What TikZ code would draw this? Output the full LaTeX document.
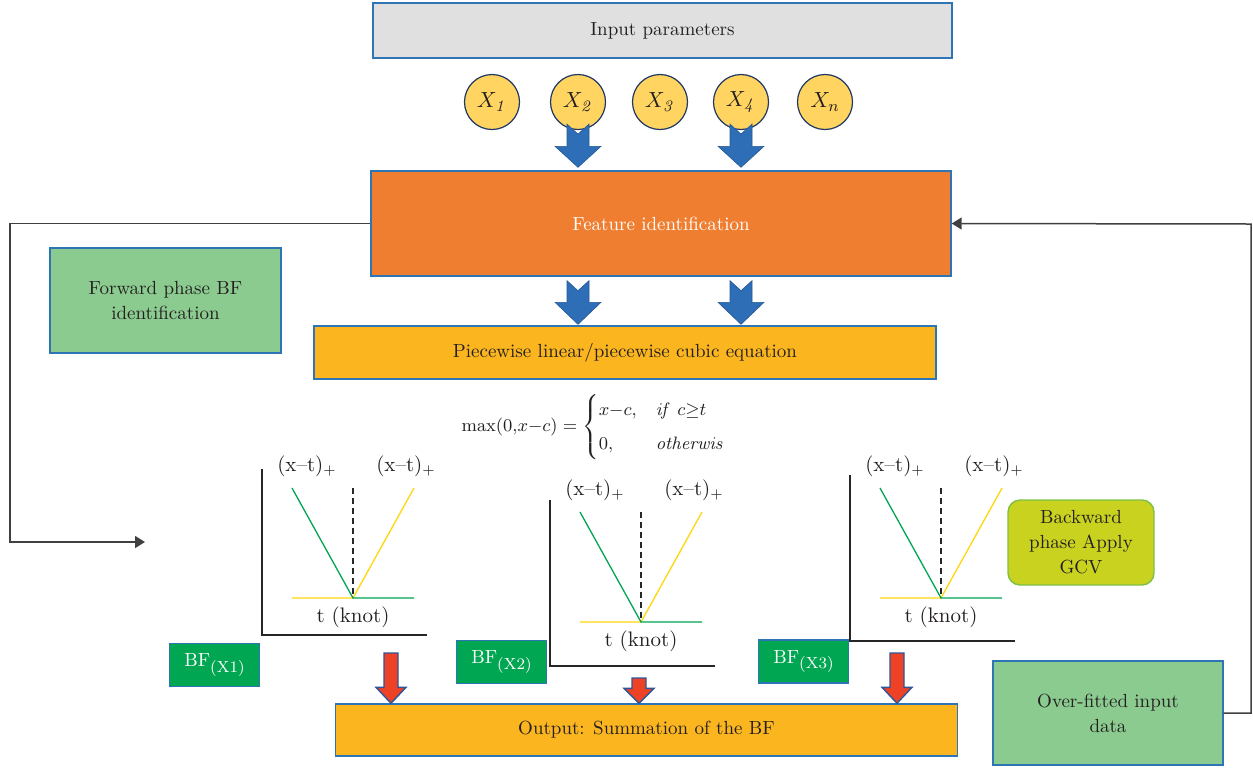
\documentclass[tikz,border=0pt]{standalone}
\usepackage{amsmath}
\usepackage{tikz}
\usetikzlibrary{calc, arrows.meta}

\definecolor{boxblue}{RGB}{46,117,182}
\definecolor{inpgrey}{RGB}{224,224,224}
\definecolor{featorange}{RGB}{240,126,48}
\definecolor{gold}{RGB}{251,181,31}
\definecolor{circyellow}{RGB}{255,212,96}
\definecolor{circblue}{RGB}{31,56,100}
\definecolor{lightgreen}{RGB}{139,203,143}
\definecolor{bfgreen}{RGB}{0,166,81}
\definecolor{gcvgreen}{RGB}{201,210,31}
\definecolor{gcvborder}{RGB}{125,192,70}
\definecolor{arrblue}{RGB}{46,110,183}
\definecolor{arrred}{RGB}{238,66,39}
\definecolor{arrredline}{RGB}{46,85,151}
\definecolor{linegrey}{RGB}{64,64,64}
\definecolor{txtdark}{RGB}{35,31,32}
\definecolor{plotgreen}{RGB}{0,166,81}
\definecolor{plotyellow}{RGB}{255,214,10}

\newcommand{\diagfont}{\fontsize{9.5}{12.5}\selectfont}
\newcommand{\bfsub}[1]{BF\raisebox{-2.6pt}{\fontsize{8}{9}\selectfont(#1)}}

% block arrow: style, top point, tip, shaft half width, head half width, head length, notch
\newcommand{\blockarrow}[7]{%
  \path[#1] let \p1=(#2), \p2=(#3) in
    (\x1-#4,\y1) -- (\x1,\y1-#7) -- (\x1+#4,\y1) -- (\x1+#4,\y2+#6)
    -- (\x1+#5,\y2+#6) -- (\x1,\y2) -- (\x1-#5,\y2+#6) -- (\x1-#4,\y2+#6) -- cycle;}

\tikzset{
  box/.style={draw=boxblue, line width=0.7pt, inner sep=2pt, align=center,
    text=txtdark, font=\diagfont},
  inbox/.style={box, fill=inpgrey, minimum width=289.5pt, minimum height=27.5pt},
  featbox/.style={box, fill=featorange, text=white, minimum width=290pt, minimum height=52.5pt},
  goldbox/.style={box, fill=gold, minimum width=311pt, minimum height=26.5pt},
  phasebox/.style={box, fill=lightgreen, minimum width=115.5pt, minimum height=52.5pt},
  gcvbox/.style={box, draw=gcvborder, fill=gcvgreen, rounded corners=6pt,
    minimum width=73pt, minimum height=42.5pt},
  bfbox/.style={box, fill=bfgreen, text=white, minimum width=45pt, minimum height=21.5pt},
  xnode/.style={circle, draw=circblue, line width=0.6pt, fill=circyellow,
    minimum size=27.5pt, inner sep=0pt, text=txtdark, font=\fontsize{11}{12}\selectfont},
  bluearr/.style={fill=arrblue, draw=arrblue!80!black, line width=0.3pt},
  redarr/.style={fill=arrred, draw=arrredline, line width=0.7pt},
  fb/.style={draw=linegrey, line width=0.75pt, -{Triangle[length=5pt,width=6pt]}},
  plotaxis/.style={draw=black!85, line width=0.75pt},
  plotline/.style={line width=0.65pt},
  knotdash/.style={draw=black!85, line width=0.6pt, dash pattern=on 3pt off 2pt},
  plotlabel/.style={text=txtdark, inner sep=0pt, font=\fontsize{10.5}{12}\selectfont},
  pics/knotplot/.style={code={
    \draw[plotaxis] (-91,-129+#1) -- (-91,37+#1) -- (74,37+#1);
    \draw[plotline, plotyellow] (-61,0) -- (0,0) -- (61,-110);
    \draw[plotline, plotgreen] (-61,-110) -- (0,0) -- (61,0);
    \draw[knotdash] (0,-110) -- (0,0);
    \node[plotlabel] (-lft) at (-46,-132) {(x--t)$_+$};
    \node[plotlabel] (-rgt) at (53,-132) {(x--t)$_+$};
    \node[plotlabel] (-knot) at (0,19) {t (knot)};
  }}
}

\begin{document}
\begin{tikzpicture}[x=0.5pt, y=-0.5pt]
  \useasboundingbox (0,0) rectangle (1253,767);

  % input parameters
  \node[inbox] (inp) at (662.5,30.5) {Input parameters};
  \node[xnode] (x1) at (492,102) {$X_{\mathit{1}}$};
  \node[xnode] (x2) at (578,102) {$X_{\mathit{2}}$};
  \node[xnode] (x3) at (660,102) {$X_{\mathit{3}}$};
  \node[xnode] (x4) at (741,102) {$X_{\mathit{4}}$};
  \node[xnode] (xn) at (825,102) {$X_n$};

  % main boxes
  \node[featbox] (feat) at (661,223.5) {Feature identification};
  \node[goldbox] (piece) at (625,352.5) {Piecewise linear/piecewise cubic equation};
  \node[phasebox] (fwd) at (165.5,300.5) {Forward phase BF\\identification};
  \node[gcvbox] (bwd) at (1081,542.5) {Backward\\phase Apply\\GCV};
  \node[phasebox, minimum width=115pt, minimum height=52pt] (over) at (1108,713) {Over-fitted input\\data};
  \node[goldbox, minimum height=26pt] (out) at (646.5,730) {Output: Summation of the BF};

  % hinge function
  \node[plotlabel, font=\fontsize{9.5}{11}\selectfont] (maxeq) at (594,427)
    {$\max(0{,}x{-}c)=\begin{cases}x{-}c, & \mathit{if}\ c{\geq}t\\[4pt] 0, & \mathit{otherwis}\end{cases}$};

  % basis function plots
  \pic (g1) at (353,598) {knotplot=0};
  \pic (g2) at (641,622) {knotplot=7};
  \pic (g3) at (941,598) {knotplot=6};

  \node[bfbox] (bf1) at (214.5,665) {\bfsub{X1}};
  \node[bfbox] (bf2) at (501.5,662) {\bfsub{X2}};
  \node[bfbox] (bf3) at (803.5,661.5) {\bfsub{X3}};

  % block arrows
  \blockarrow{bluearr}{$(x2.south)+(0,-6)$}{$(x2.south |- feat.north)+(0,-3)$}{5.5pt}{11.5pt}{10.5pt}{5pt}
  \blockarrow{bluearr}{$(x4.south)+(0,-6)$}{$(x4.south |- feat.north)+(0,-3)$}{5.5pt}{11.5pt}{10.5pt}{5pt}
  \blockarrow{bluearr}{$(x2 |- feat.south)+(0,4)$}{$(x2 |- piece.north)+(0,-1)$}{5.5pt}{11.5pt}{11pt}{5pt}
  \blockarrow{bluearr}{$(x4 |- feat.south)+(0,4)$}{$(x4 |- piece.north)+(0,-1)$}{5.5pt}{11.5pt}{11pt}{5pt}

  \coordinate (r1) at (391,653);
  \coordinate (r2) at (639,678);
  \coordinate (r3) at (897,653);
  \blockarrow{redarr}{r1}{r1 |- out.north}{3.5pt}{7.5pt}{8pt}{0pt}
  \blockarrow{redarr}{r2}{r2 |- out.north}{3.5pt}{7.5pt}{7.5pt}{0pt}
  \blockarrow{redarr}{r3}{r3 |- out.north}{3.5pt}{7.5pt}{8pt}{0pt}

  % feedback lines
  \coordinate (fwdend) at (145,542);
  \coordinate (fbl) at (10,542);
  \coordinate (fbr) at (1251,224);
  \draw[fb] (feat.west) -| (fbl) -- (fwdend);
  \draw[fb] (over.east) -| (fbr) -- (feat.east);
\end{tikzpicture}
\end{document}
